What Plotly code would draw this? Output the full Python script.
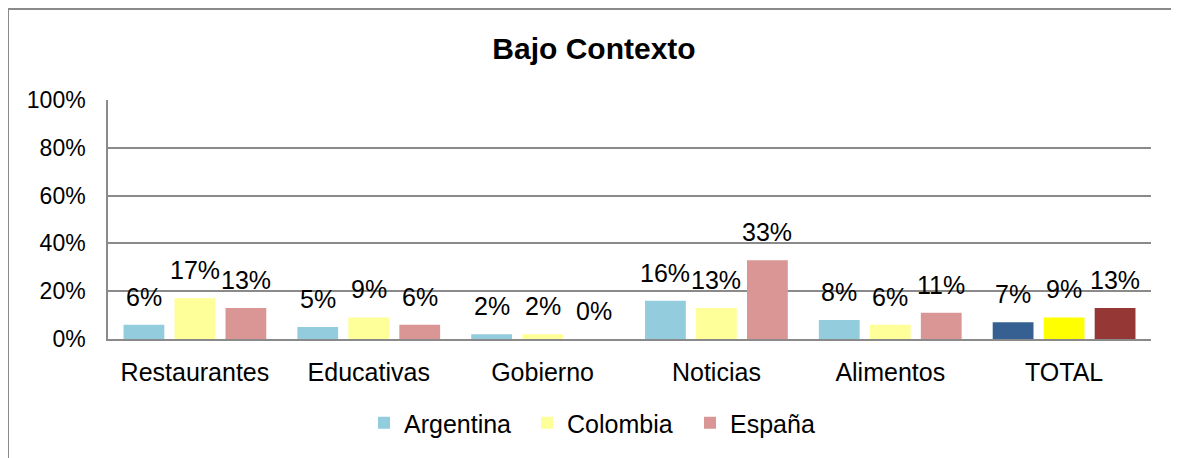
import plotly.graph_objects as go

categories = ["Restaurantes", "Educativas", "Gobierno", "Noticias", "Alimentos", "TOTAL"]
series_names = ["Argentina", "Colombia", "España"]
argentina = [0.06, 0.05, 0.02, 0.16, 0.08, 0.07]
colombia = [0.17, 0.09, 0.02, 0.13, 0.06, 0.09]
espana = [0.13, 0.06, 0.00, 0.33, 0.11, 0.13]
y_ticks = [0, 0.2, 0.4, 0.6, 0.8, 1.0]

base_colors = ["#93CDDD", "#FFFF99", "#D99694"]
total_colors = ["#366092", "#FFFF00", "#953735"]

FONT = "Liberation Sans, Arial, sans-serif"
OFF = 8  # page body margin
W, H = 1179 - OFF, 458 - OFF
PL, PR, PT, PB = 108, 1151, 100, 339  # plot area in page pixels
L, T = PL - OFF, PT - OFF
R = W - (PR - OFF)
B = H - (PB - OFF)
BARGAP = 0.12
GROUPGAP = 0.2

fig = go.Figure()
all_series = [argentina, colombia, espana]
for k, (name, vals) in enumerate(zip(series_names, all_series)):
    colors = [base_colors[k]] * (len(categories) - 1) + [total_colors[k]]
    fig.add_trace(go.Bar(
        name=name, x=categories, y=vals,
        marker=dict(color=colors, line=dict(width=0)),
        hoverinfo="skip",
    ))

slot = (1 - BARGAP) / 3
annotations = []
for k, vals in enumerate(all_series):
    for i, v in enumerate(vals):
        annotations.append(dict(
            x=i + (k - 1) * slot, y=v, xref="x", yref="y",
            text=f"{v:.0%}", showarrow=False, yanchor="bottom",
            yshift=12, font=dict(family=FONT, size=25, color="#000"),
        ))

pw, ph = PR - PL, PB - PT
def px(xp):
    return (xp - PL) / pw
def py(yp):
    return (PB - yp) / ph

fig.update_layout(
    width=W, height=H,
    margin=dict(l=L, r=R, t=T, b=B, pad=0),
    paper_bgcolor="white", plot_bgcolor="white",
    barmode="group", bargap=BARGAP, bargroupgap=GROUPGAP,
    font=dict(family=FONT, color="#000"),
    title=dict(text="<b>Bajo Contexto</b>", x=(594 - OFF) / W, xanchor="center",
               y=1 - (48 - OFF) / H, yanchor="middle", yref="container",
               font=dict(family=FONT, size=30, color="#000")),
    showlegend=True,
    legend=dict(orientation="h", x=px(364), xanchor="left",
                y=py(423), yanchor="middle",
                font=dict(family=FONT, size=25, color="#000"),
                itemwidth=30, entrywidth=118, entrywidthmode="pixels",
                traceorder="normal"),
    annotations=annotations,
    shapes=[dict(type="rect", xref="paper", yref="paper",
                 x0=px(8), x1=px(1200), y0=py(480), y1=py(9),
                 line=dict(color="#8a8a8a", width=2), layer="below")],
)
fig.update_yaxes(range=[0, 1], tickvals=y_ticks, tickformat=".0%",
                 showgrid=True, gridcolor="#8a8a8a", gridwidth=1.5,
                 showline=True, linecolor="#8a8a8a", linewidth=1.5,
                 zeroline=False, ticks="", ticklabelstandoff=16,
                 tickfont=dict(family=FONT, size=23, color="#000"))
fig.update_xaxes(showline=True, linecolor="#8a8a8a", linewidth=1.5,
                 ticks="", ticklabelstandoff=10, showgrid=False,
                 tickfont=dict(family=FONT, size=25, color="#000"))

fig.write_html("out.html")
